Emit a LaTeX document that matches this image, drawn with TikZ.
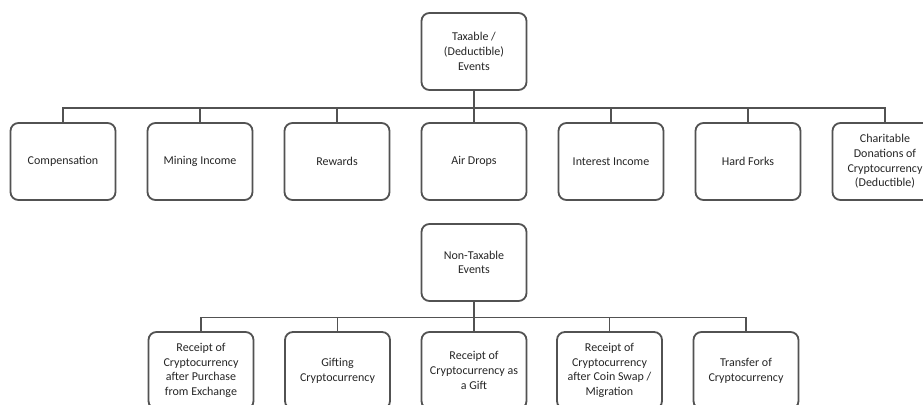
\documentclass[tikz,border=0pt]{standalone}
\usepackage{fontspec}
\setmainfont{Carlito}
\begin{document}
\begin{tikzpicture}[x=1pt,y=-1pt,
  evbox/.style={draw=black!68, line width=1.8pt, rounded corners=8pt, fill=white,
    minimum width=105pt, minimum height=77pt, align=center, inner sep=2pt,
    text=black!85, font=\fontsize{12}{14.7}\selectfont},
  conn/.style={draw=black!68, line width=1.8pt}]
\clip (0,0) rectangle (923,404);
\fill[white] (0,0) rectangle (923,404);
% top tree
\node[evbox] (tax) at (474,51.5) {Taxable /\\(Deductible)\\Events};
\node[evbox] (comp) at (63,161.5) {Compensation};
\node[evbox] (mine) at (200,161.5) {Mining Income};
\node[evbox] (rew) at (337,161.5) {Rewards};
\node[evbox] (air) at (474,161.5) {Air Drops};
\node[evbox] (int) at (611,161.5) {Interest Income};
\node[evbox] (fork) at (748,161.5) {Hard Forks};
\node[evbox] (char) at (885,161.5) {Charitable\\Donations of\\Cryptocurrency\\(Deductible)};
\foreach \c in {comp,mine,rew,air,int,fork,char}
  \draw[conn] (tax.south) -- ++(0,17) -| (\c.north);
% bottom tree
\node[evbox] (non) at (474,262.5) {Non-Taxable\\Events};
\node[evbox] (rp) at (201,370.5) {Receipt of\\Cryptocurrency\\after Purchase\\from Exchange};
\node[evbox] (gift) at (337.5,370.5) {Gifting\\Cryptocurrency};
\node[evbox] (rg) at (474,370.5) {Receipt of\\Cryptocurrency as\\a Gift};
\node[evbox] (swap) at (609.5,370.5) {Receipt of\\Cryptocurrency\\after Coin Swap /\\Migration};
\node[evbox] (tr) at (746,370.5) {Transfer of\\Cryptocurrency};
\foreach \c in {rp,gift,rg,swap,tr}
  \draw[conn] (non.south) -- ++(0,15.5) -| (\c.north);
\end{tikzpicture}
\end{document}
